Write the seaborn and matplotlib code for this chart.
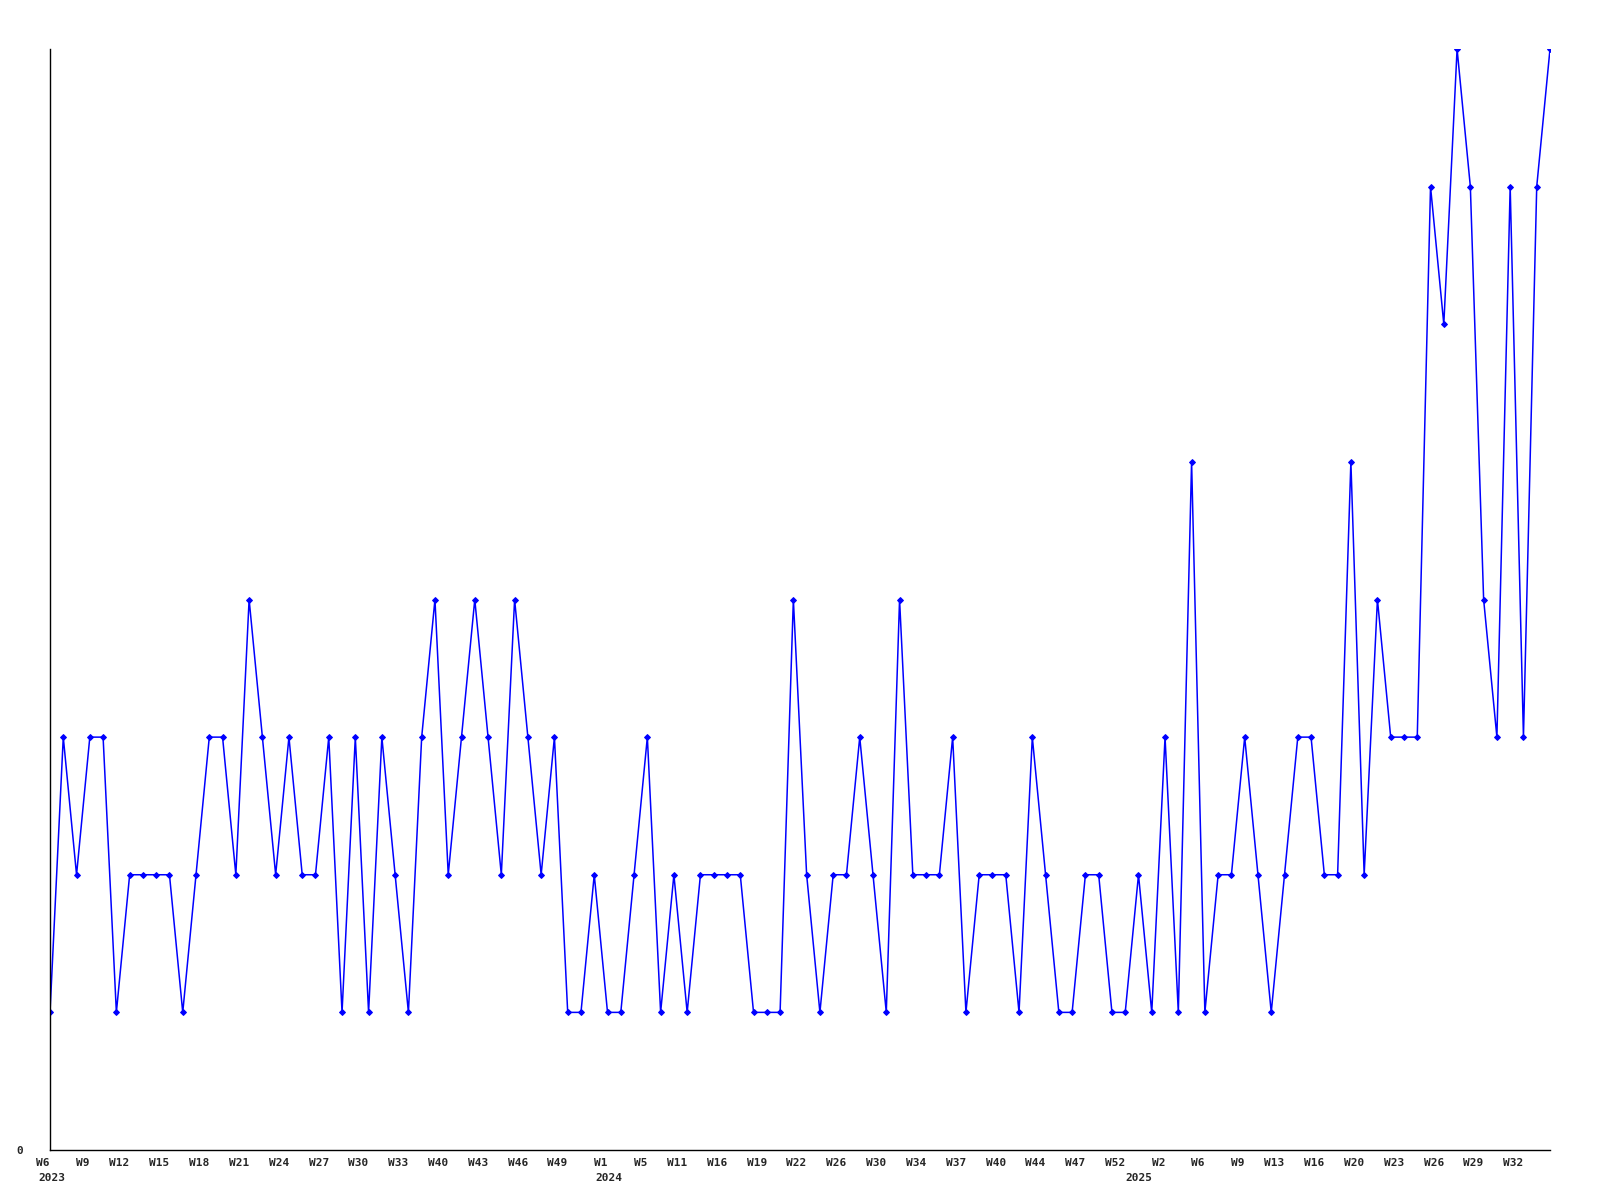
import numpy as np
import pandas as pd
import matplotlib
matplotlib.use("Agg")
import matplotlib.pyplot as plt
import seaborn as sns

# weekly counts, one point per reported week
values = [
    1, 3, 2, 3, 3, 1, 2, 2, 2, 2,
    1, 2, 3, 3, 2, 4, 3, 2, 3, 2,
    2, 3, 1, 3, 1, 3, 2, 1, 3, 4,
    2, 3, 4, 3, 2, 4, 3, 2, 3, 1,
    1, 2, 1, 1, 2, 3, 1, 2, 1, 2,
    2, 2, 2, 1, 1, 1, 4, 2, 1, 2,
    2, 3, 2, 1, 4, 2, 2, 2, 3, 1,
    2, 2, 2, 1, 3, 2, 1, 1, 2, 2,
    1, 1, 2, 1, 3, 1, 5, 1, 2, 2,
    3, 2, 1, 2, 3, 3, 2, 2, 5, 2,
    4, 3, 3, 3, 7, 6, 8, 7, 4, 3,
    7, 3, 7, 8,
]

# every third week is labelled
week_labels = [
    "W6", "W9", "W12", "W15", "W18", "W21", "W24", "W27", "W30", "W33",
    "W40", "W43", "W46", "W49", "W1", "W5", "W11", "W16", "W19", "W22",
    "W26", "W30", "W34", "W37", "W40", "W44", "W47", "W52", "W2", "W6",
    "W9", "W13", "W16", "W20", "W23", "W26", "W29", "W32",
]
years = ["2023", "2024", "2025"]
year_pos = [-0.9, 41.1, 81]

df = pd.DataFrame({"idx": np.arange(len(values)), "count": values})

sns.set_style("white")
plt.rcParams["font.family"] = ["DejaVu Sans Mono", "DejaVu Sans"]

fig = plt.figure(figsize=(16, 12), dpi=100)
ax = fig.add_axes([50 / 1600, 1 - 1150 / 1200, 1500 / 1600, 1101 / 1200])

sns.lineplot(data=df, x="idx", y="count", ax=ax, color="#0000ff",
             linewidth=1.1, marker="D", markersize=3,
             markeredgecolor="#0000ff", markerfacecolor="#0000ff")

ax.set_xlim(0, len(values) - 1)
ax.set_ylim(0, 8)
ax.set_xlabel("")
ax.set_ylabel("")

for side in ["top", "right"]:
    ax.spines[side].set_visible(False)
for side in ["left", "bottom"]:
    ax.spines[side].set_color("black")
    ax.spines[side].set_linewidth(1)

tick_pos = np.arange(0, len(values), 3)
ax.set_xticks(tick_pos)
ax.set_xticklabels(week_labels, ha="right", fontsize=8, fontweight="bold")
ax.set_yticks([0])
ax.set_yticklabels(["0"], fontsize=8, fontweight="bold")
ax.tick_params(axis="x", length=0, pad=5.5)
ax.tick_params(axis="y", length=0, pad=19)

for yr, xp in zip(years, year_pos):
    ax.annotate(yr, xy=(xp, 0), xycoords=("data", "axes fraction"),
                xytext=(0, -16.5), textcoords="offset points",
                ha="left", va="top", fontsize=8, fontweight="bold")

ax.grid(False)
fig.savefig("out.png", dpi=100)
